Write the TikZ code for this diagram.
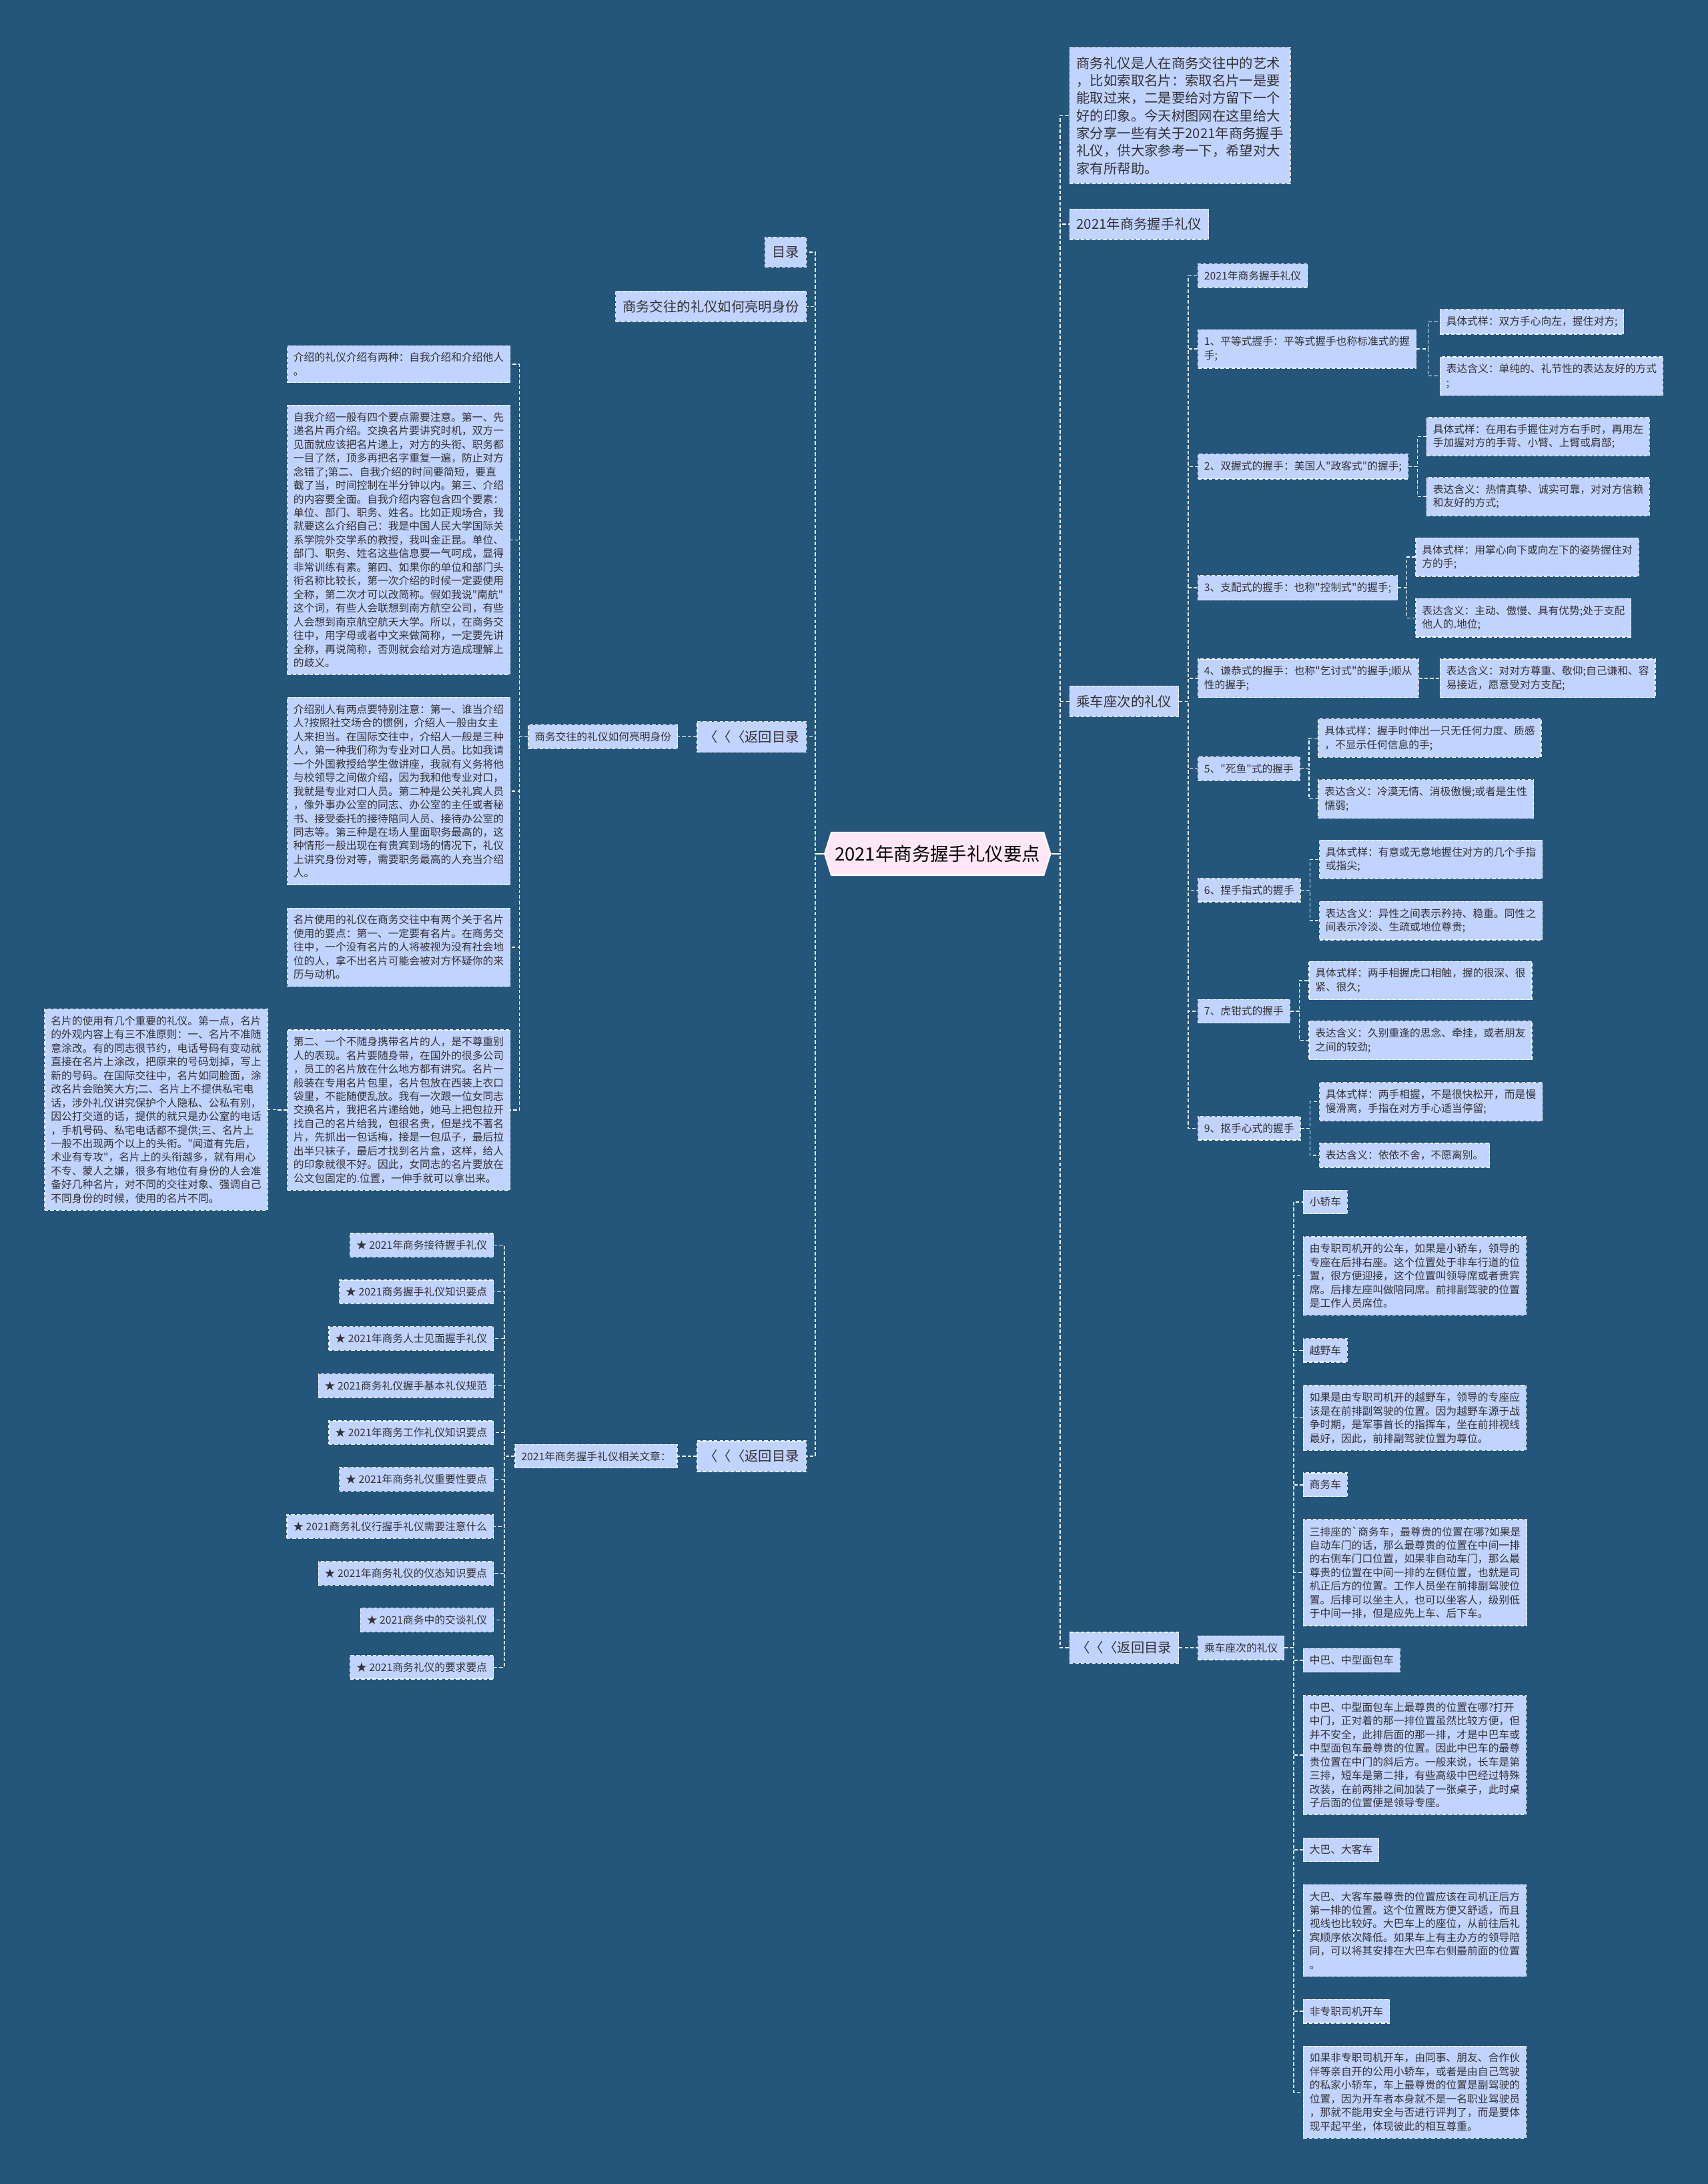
\documentclass[tikz,border=0pt]{standalone}
\usepackage{fontspec}
\setmainfont{Noto Sans CJK SC}
\newfontfamily\cjk{Noto Sans CJK SC}
\usetikzlibrary{calc,shapes.symbols}

\definecolor{bgblue}{RGB}{35,86,122}
\definecolor{boxblue}{RGB}{193,211,255}
\definecolor{inkgray}{RGB}{51,51,51}
\definecolor{rootpink}{RGB}{255,232,246}

\begin{document}
\begin{tikzpicture}[
    x=1pt, y=-1pt,
    leaf/.style={draw=white, line width=0.6pt, dash pattern=on 2.5pt off 1.5pt,
        fill=boxblue, text=inkgray, align=left, inner xsep=4.5pt, inner ysep=5pt,
        font=\cjk\fontsize{7.55}{9.8}\selectfont},
    topic/.style={leaf, inner xsep=5pt, inner ysep=6.5pt, font=\cjk\fontsize{9.75}{12.6}\selectfont},
    root/.style={shape=signal, signal to=west and east, signal pointer angle=145,
        draw=white, line width=0.8pt, fill=rootpink, text=black, inner xsep=2.5pt,
        minimum height=31pt, font=\cjk\fontsize{13.15}{15}\selectfont},
    link/.style={draw=white, line width=0.7pt, dash pattern=on 2.5pt off 1.5pt,
        to path={-- ($(\tikztostart)!0.5!(\tikztostart -| \tikztotarget)$) |- (\tikztotarget)}}
]

% Background
\fill[bgblue] (0,0) rectangle (1226,1568);
\useasboundingbox (0,0) rectangle (1226,1568);

% Root
\node[root] (root) at (673,613) {2021年商务握手礼仪要点};

% Right branch
\node[topic, anchor=west] (intro) at (767.5,83) {商务礼仪是人在商务交往中的艺术\\，比如索取名片：索取名片一是要\\能取过来，二是要给对方留下一个\\好的印象。今天树图网在这里给大\\家分享一些有关于2021年商务握手\\礼仪，供大家参考一下，希望对大\\家有所帮助。};
\node[topic, anchor=west] (hs) at (767.5,161) {2021年商务握手礼仪};
\node[topic, anchor=west] (ride) at (767.5,503.5) {乘车座次的礼仪};
\node[topic, anchor=west] (backR) at (767.5,1183) {〈〈〈返回目录};

% Handshake kinds
\node[leaf, anchor=west] (hs0) at (859.6,198) {2021年商务握手礼仪};
\node[leaf, anchor=west] (hs1) at (859.6,250.5) {1、平等式握手：平等式握手也称标准式的握\\手;};
\node[leaf, anchor=west] (hs1a) at (1033.4,231) {具体式样：双方手心向左，握住对方;};
\node[leaf, anchor=west] (hs1b) at (1033.4,270) {表达含义：单纯的、礼节性的表达友好的方式\\;};
\node[leaf, anchor=west] (hs2) at (859.6,335) {2、双握式的握手：美国人"政客式"的握手;};
\node[leaf, anchor=west] (hs2a) at (1023.8,313.5) {具体式样：在用右手握住对方右手时，再用左\\手加握对方的手背、小臂、上臂或肩部;};
\node[leaf, anchor=west] (hs2b) at (1023.8,356.5) {表达含义：热情真挚、诚实可靠，对对方信赖\\和友好的方式;};
\node[leaf, anchor=west] (hs3) at (859.6,422) {3、支配式的握手：也称"控制式"的握手;};
\node[leaf, anchor=west] (hs3a) at (1016,400) {具体式样：用掌心向下或向左下的姿势握住对\\方的手;};
\node[leaf, anchor=west] (hs3b) at (1016,443.6) {表达含义：主动、傲慢、具有优势;处于支配\\他人的.地位;};
\node[leaf, anchor=west] (hs4) at (859.6,487) {4、谦恭式的握手：也称"乞讨式"的握手;顺从\\性的握手;};
\node[leaf, anchor=west] (hs4a) at (1033.4,487) {表达含义：对对方尊重、敬仰;自己谦和、容\\易接近，愿意受对方支配;};
\node[leaf, anchor=west] (hs5) at (859.6,552) {5、"死鱼"式的握手};
\node[leaf, anchor=west] (hs5a) at (946,530) {具体式样：握手时伸出一只无任何力度、质感\\，不显示任何信息的手;};
\node[leaf, anchor=west] (hs5b) at (946,573.6) {表达含义：冷漠无情、消极傲慢;或者是生性\\懦弱;};
\node[leaf, anchor=west] (hs6) at (859.6,639) {6、捏手指式的握手};
\node[leaf, anchor=west] (hs6a) at (946.8,617) {具体式样：有意或无意地握住对方的几个手指\\或指尖;};
\node[leaf, anchor=west] (hs6b) at (946.8,661) {表达含义：异性之间表示矜持、稳重。同性之\\间表示冷淡、生疏或地位尊贵;};
\node[leaf, anchor=west] (hs7) at (859.6,726) {7、虎钳式的握手};
\node[leaf, anchor=west] (hs7a) at (939.3,704) {具体式样：两手相握虎口相触，握的很深、很\\紧、很久;};
\node[leaf, anchor=west] (hs7b) at (939.3,747) {表达含义：久别重逢的思念、牵挂，或者朋友\\之间的较劲;};
\node[leaf, anchor=west] (hs9) at (859.6,810) {9、抠手心式的握手};
\node[leaf, anchor=west] (hs9a) at (946.8,791) {具体式样：两手相握，不是很快松开，而是慢\\慢滑离，手指在对方手心适当停留;};
\node[leaf, anchor=west] (hs9b) at (946.8,829.5) {表达含义：依依不舍，不愿离别。};

% Seating in cars
\node[leaf, anchor=west] (car0) at (859.7,1183) {乘车座次的礼仪};
\node[leaf, anchor=west] (sedan) at (935.2,863) {小轿车};
\node[leaf, anchor=west] (sedanTxt) at (935.2,916) {由专职司机开的公车，如果是小轿车，领导的\\专座在后排右座。这个位置处于非车行道的位\\置，很方便迎接，这个位置叫领导席或者贵宾\\席。后排左座叫做陪同席。前排副驾驶的位置\\是工作人员席位。};
\node[leaf, anchor=west] (suv) at (935.2,969.5) {越野车};
\node[leaf, anchor=west] (suvTxt) at (935.2,1018) {如果是由专职司机开的越野车，领导的专座应\\该是在前排副驾驶的位置。因为越野车源于战\\争时期，是军事首长的指挥车，坐在前排视线\\最好，因此，前排副驾驶位置为尊位。};
\node[leaf, anchor=west] (mpv) at (935.2,1066) {商务车};
\node[leaf, anchor=west] (mpvTxt) at (935.2,1129) {三排座的`商务车，最尊贵的位置在哪?如果是\\自动车门的话，那么最尊贵的位置在中间一排\\的右侧车门口位置，如果非自动车门，那么最\\尊贵的位置在中间一排的左侧位置，也就是司\\机正后方的位置。工作人员坐在前排副驾驶位\\置。后排可以坐主人，也可以坐客人，级别低\\于中间一排，但是应先上车、后下车。};
\node[leaf, anchor=west] (bus) at (935.2,1192) {中巴、中型面包车};
\node[leaf, anchor=west] (busTxt) at (935.2,1260) {中巴、中型面包车上最尊贵的位置在哪?打开\\中门，正对着的那一排位置虽然比较方便，但\\并不安全，此排后面的那一排，才是中巴车或\\中型面包车最尊贵的位置。因此中巴车的最尊\\贵位置在中门的斜后方。一般来说，长车是第\\三排，短车是第二排，有些高级中巴经过特殊\\改装，在前两排之间加装了一张桌子，此时桌\\子后面的位置便是领导专座。};
\node[leaf, anchor=west] (coach) at (935.2,1328) {大巴、大客车};
\node[leaf, anchor=west] (coachTxt) at (935.2,1386) {大巴、大客车最尊贵的位置应该在司机正后方\\第一排的位置。这个位置既方便又舒适，而且\\视线也比较好。大巴车上的座位，从前往后礼\\宾顺序依次降低。如果车上有主办方的领导陪\\同，可以将其安排在大巴车右侧最前面的位置\\。};
\node[leaf, anchor=west] (selfdrive) at (935.2,1444) {非专职司机开车};
\node[leaf, anchor=west] (selfdriveTxt) at (935.2,1502) {如果非专职司机开车，由同事、朋友、合作伙\\伴等亲自开的公用小轿车，或者是由自己驾驶\\的私家小轿车，车上最尊贵的位置是副驾驶的\\位置，因为开车者本身就不是一名职业驾驶员\\，那就不能用安全与否进行评判了，而是要体\\现平起平坐，体现彼此的相互尊重。};

% Left branch
\node[topic, anchor=east] (toc) at (579,181) {目录};
\node[topic, anchor=east] (ident) at (579,220) {商务交往的礼仪如何亮明身份};
\node[topic, anchor=east] (backL1) at (579,529) {〈〈〈返回目录};
\node[topic, anchor=east] (backL2) at (579,1045.5) {〈〈〈返回目录};

% Introductions and cards
\node[leaf, anchor=east] (identS) at (486.7,529) {商务交往的礼仪如何亮明身份};
\node[leaf, anchor=east] (intro2) at (366.5,261.5) {介绍的礼仪介绍有两种：自我介绍和介绍他人\\。};
\node[leaf, anchor=east] (selfIntro) at (366.5,387.6) {自我介绍一般有四个要点需要注意。第一、先\\递名片再介绍。交换名片要讲究时机，双方一\\见面就应该把名片递上，对方的头衔、职务都\\一目了然，顶多再把名字重复一遍，防止对方\\念错了;第二、自我介绍的时间要简短，要直\\截了当，时间控制在半分钟以内。第三、介绍\\的内容要全面。自我介绍内容包含四个要素：\\单位、部门、职务、姓名。比如正规场合，我\\就要这么介绍自己：我是中国人民大学国际关\\系学院外交学系的教授，我叫金正昆。单位、\\部门、职务、姓名这些信息要一气呵成，显得\\非常训练有素。第四、如果你的单位和部门头\\衔名称比较长，第一次介绍的时候一定要使用\\全称，第二次才可以改简称。假如我说"南航"\\这个词，有些人会联想到南方航空公司，有些\\人会想到南京航空航天大学。所以，在商务交\\往中，用字母或者中文来做简称，一定要先讲\\全称，再说简称，否则就会给对方造成理解上\\的歧义。};
\node[leaf, anchor=east] (others) at (366.5,568) {介绍别人有两点要特别注意：第一、谁当介绍\\人?按照社交场合的惯例，介绍人一般由女主\\人来担当。在国际交往中，介绍人一般是三种\\人，第一种我们称为专业对口人员。比如我请\\一个外国教授给学生做讲座，我就有义务将他\\与校领导之间做介绍，因为我和他专业对口，\\我就是专业对口人员。第二种是公关礼宾人员\\，像外事办公室的同志、办公室的主任或者秘\\书、接受委托的接待陪同人员、接待办公室的\\同志等。第三种是在场人里面职务最高的，这\\种情形一般出现在有贵宾到场的情况下，礼仪\\上讲究身份对等，需要职务最高的人充当介绍\\人。};
\node[leaf, anchor=east] (cardUse) at (366.5,680) {名片使用的礼仪在商务交往中有两个关于名片\\使用的要点：第一、一定要有名片。在商务交\\往中，一个没有名片的人将被视为没有社会地\\位的人，拿不出名片可能会被对方怀疑你的来\\历与动机。};
\node[leaf, anchor=east] (cardCarry) at (366.5,797) {第二、一个不随身携带名片的人，是不尊重别\\人的表现。名片要随身带，在国外的很多公司\\，员工的名片放在什么地方都有讲究。名片一\\般装在专用名片包里，名片包放在西装上衣口\\袋里，不能随便乱放。我有一次跟一位女同志\\交换名片，我把名片递给她，她马上把包拉开\\找自己的名片给我，包很名贵，但是找不著名\\片，先抓出一包话梅，接是一包瓜子，最后拉\\出半只袜子，最后才找到名片盒，这样，给人\\的印象就很不好。因此，女同志的名片要放在\\公文包固定的.位置，一伸手就可以拿出来。};
\node[leaf, anchor=east] (cardRules) at (192.4,796.7) {名片的使用有几个重要的礼仪。第一点，名片\\的外观内容上有三不准原则：一、名片不准随\\意涂改。有的同志很节约，电话号码有变动就\\直接在名片上涂改，把原来的号码划掉，写上\\新的号码。在国际交往中，名片如同脸面，涂\\改名片会贻笑大方;二、名片上不提供私宅电\\话，涉外礼仪讲究保护个人隐私、公私有别，\\因公打交道的话，提供的就只是办公室的电话\\，手机号码、私宅电话都不提供;三、名片上\\一般不出现两个以上的头衔。"闻道有先后，\\术业有专攻"，名片上的头衔越多，就有用心\\不专、蒙人之嫌，很多有地位有身份的人会准\\备好几种名片，对不同的交往对象、强调自己\\不同身份的时候，使用的名片不同。};

% Related articles
\node[leaf, anchor=east] (relS) at (486.4,1045.5) {2021年商务握手礼仪相关文章：};
\node[leaf, anchor=east] (art1) at (354.5,894) {★ 2021年商务接待握手礼仪};
\node[leaf, anchor=east] (art2) at (354.5,927.5) {★ 2021商务握手礼仪知识要点};
\node[leaf, anchor=east] (art3) at (354.5,961) {★ 2021年商务人士见面握手礼仪};
\node[leaf, anchor=east] (art4) at (354.5,995) {★ 2021商务礼仪握手基本礼仪规范};
\node[leaf, anchor=east] (art5) at (354.5,1028.6) {★ 2021年商务工作礼仪知识要点};
\node[leaf, anchor=east] (art6) at (354.5,1062) {★ 2021年商务礼仪重要性要点};
\node[leaf, anchor=east] (art7) at (354.5,1096) {★ 2021商务礼仪行握手礼仪需要注意什么};
\node[leaf, anchor=east] (art8) at (354.5,1129.6) {★ 2021年商务礼仪的仪态知识要点};
\node[leaf, anchor=east] (art9) at (354.5,1163) {★ 2021商务中的交谈礼仪};
\node[leaf, anchor=east] (art10) at (354.5,1197) {★ 2021商务礼仪的要求要点};

% Connectors, right side
\foreach \c in {intro,hs,ride,backR}
    \draw[link] (root.east) to (\c.west);
\foreach \c in {hs0,hs1,hs2,hs3,hs4,hs5,hs6,hs7,hs9}
    \draw[link] (ride.east) to (\c.west);
\foreach \p in {hs1,hs2,hs3,hs5,hs6,hs7,hs9} {
    \draw[link] (\p.east) to (\p a.west);
    \draw[link] (\p.east) to (\p b.west);
}
\draw[link] (hs4.east) to (hs4a.west);
\draw[link] (backR.east) to (car0.west);
\foreach \c in {sedan,sedanTxt,suv,suvTxt,mpv,mpvTxt,bus,busTxt,coach,coachTxt,selfdrive,selfdriveTxt}
    \draw[link] (car0.east) to (\c.west);

% Connectors, left side
\foreach \c in {toc,ident,backL1,backL2}
    \draw[link] (root.west) to (\c.east);
\draw[link] (backL1.west) to (identS.east);
\foreach \c in {intro2,selfIntro,others,cardUse,cardCarry}
    \draw[link] (identS.west) to (\c.east);
\draw[link] (cardCarry.west) to (cardRules.east);
\draw[link] (backL2.west) to (relS.east);
\foreach \c in {art1,art2,art3,art4,art5,art6,art7,art8,art9,art10}
    \draw[link] (relS.west) to (\c.east);

% Root stubs
\draw[white, line width=1.2pt] (root.east) -- ++(5,0);
\draw[white, line width=1.2pt] (root.west) -- ++(-5,0);

\end{tikzpicture}
\end{document}
